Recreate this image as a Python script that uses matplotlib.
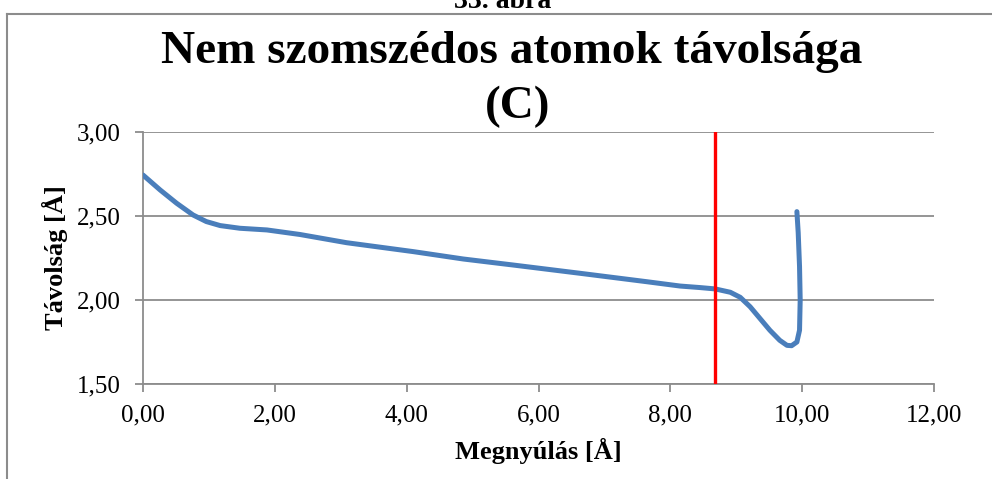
import matplotlib
matplotlib.use("Agg")
import matplotlib.pyplot as plt
from matplotlib.lines import Line2D

# Data
megnyulas = [0.00, 0.26, 0.51, 0.76, 0.96, 1.17, 1.47, 1.88, 2.38, 3.09, 4.10, 4.86,
             5.62, 6.63, 7.64, 8.15, 8.45, 8.68, 8.91, 9.06, 9.21, 9.36, 9.51, 9.66,
             9.77, 9.84, 9.92, 9.96, 9.97, 9.96, 9.94, 9.92]
tavolsag = [2.744, 2.655, 2.576, 2.506, 2.467, 2.443, 2.427, 2.417, 2.390, 2.341, 2.288, 2.244,
            2.208, 2.159, 2.109, 2.083, 2.074, 2.066, 2.046, 2.016, 1.960, 1.890, 1.820, 1.760,
            1.730, 1.728, 1.750, 1.820, 2.000, 2.200, 2.400, 2.526]
red_x = [8.68, 8.68]
red_y = [1.50, 3.00]
x_ticks = [0, 2, 4, 6, 8, 10, 12]
y_ticks = [1.5, 2.0, 2.5, 3.0]

W, H = 992, 479
fig = plt.figure(figsize=(W / 100, H / 100), dpi=100)
plt.rcParams['font.family'] = ['Liberation Serif', 'DejaVu Serif']

ax = fig.add_axes([143 / W, 1 - 384 / H, (934 - 143) / W, (384 - 132) / H])

grid_col = '#8c8c8c'
ax.plot(megnyulas, tavolsag, color='#4a7ebb', lw=3.6, solid_capstyle='round',
        solid_joinstyle='round', zorder=3)
ax.plot(red_x, red_y, color='#ff0000', lw=2.4, zorder=4)

ax.set_xlim(0, 12)
ax.set_ylim(1.5, 3.0)
ax.set_xticks(x_ticks)
ax.set_yticks(y_ticks)
ax.set_xticklabels([f"{v:.2f}".replace('.', ',') for v in x_ticks], fontsize=18)
ax.set_yticklabels([f"{v:.2f}".replace('.', ',') for v in y_ticks], fontsize=18)
ax.yaxis.grid(True, color=grid_col, lw=1.3)
ax.set_axisbelow(True)
for s in ['top', 'right']:
    ax.spines[s].set_visible(False)
for s in ['left', 'bottom']:
    ax.spines[s].set_color(grid_col)
    ax.spines[s].set_linewidth(1.3)
ax.tick_params(axis='both', direction='out', length=6, width=1.3, color=grid_col,
               colors='black')
ax.tick_params(axis='y', pad=10)
ax.tick_params(axis='x', pad=9)

ax.set_xlabel("Megnyúlás [Å]", fontsize=19, fontweight='bold')
ax.set_ylabel("Távolság [Å]", fontsize=19, fontweight='bold')
ax.xaxis.set_label_coords(0.5, -0.216)
ax.yaxis.set_label_coords(-0.095, 0.5)

fig.text(512 / W, 1 - 63 / H, "Nem szomszédos atomok távolsága", ha='center',
         va='baseline', fontsize=34, fontweight='bold')
fig.text(518 / W, 1 - 118 / H, "(C)", ha='center', va='baseline', fontsize=34,
         fontweight='bold')
fig.text(503 / W, 1 - 8 / H, "33. ábra", ha='center', va='baseline', fontsize=20,
         fontweight='bold')

# outer chart border
fig.add_artist(Line2D([7 / W, 1.0], [1 - 13.5 / H, 1 - 13.5 / H], transform=fig.transFigure,
                      color='#8c8c8c', lw=1.5))
fig.add_artist(Line2D([7 / W, 7 / W], [0, 1 - 13.5 / H], transform=fig.transFigure,
                      color='#8c8c8c', lw=1.5))

fig.savefig("out.png", dpi=100)
